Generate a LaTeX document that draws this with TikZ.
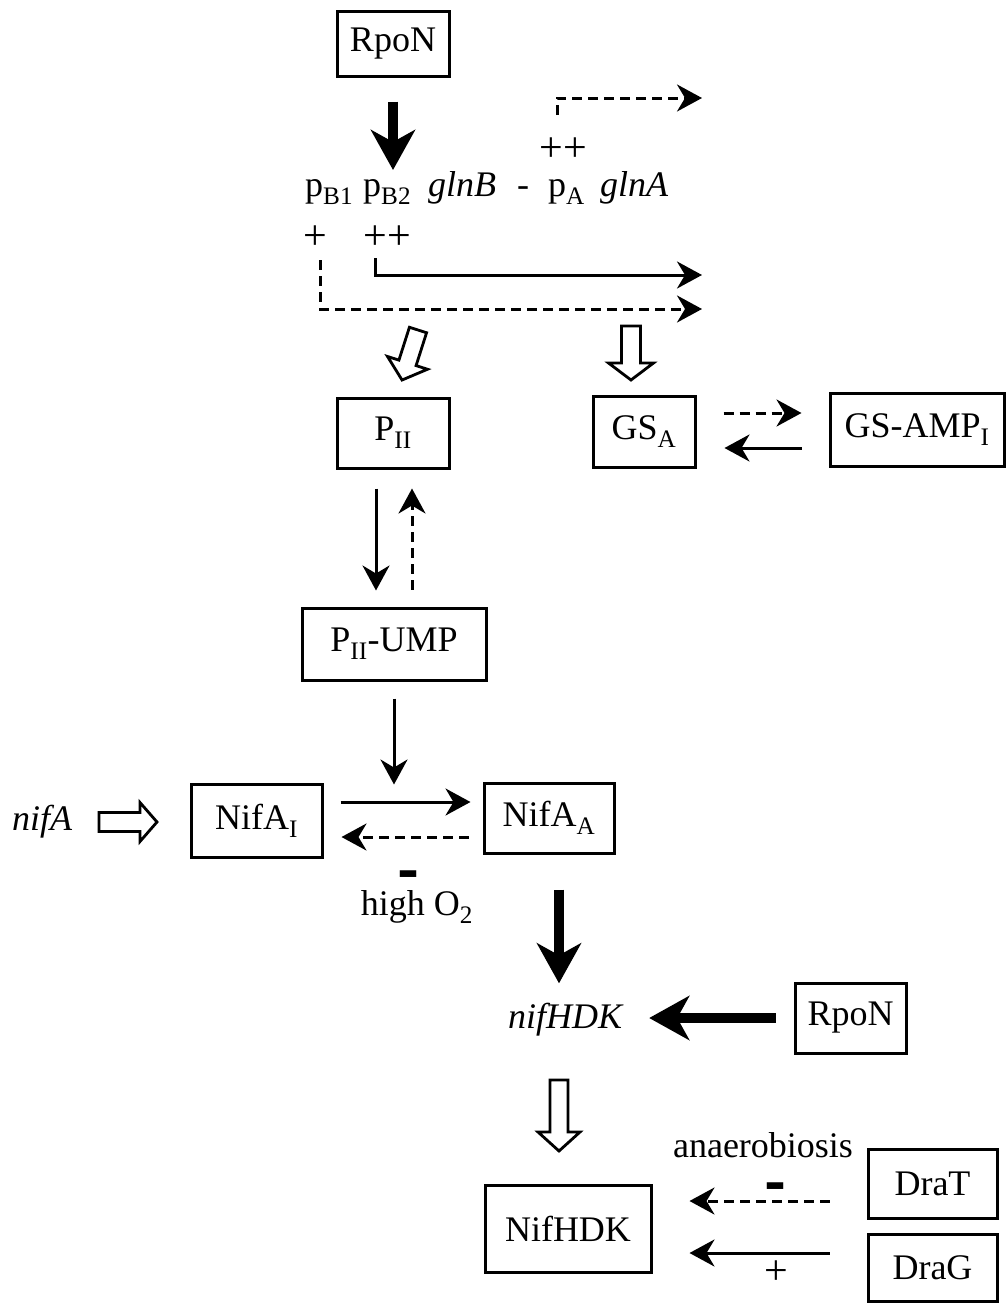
\documentclass[tikz,border=0pt]{standalone}
\usepackage{fontspec}
\usepackage{graphicx}
\setmainfont{Liberation Serif}
\usetikzlibrary{arrows.meta,calc}
\newcommand\hollowarrow[7]{%
  \begin{scope}[shift={(#1,#2)},rotate=#3]
  \draw[hollowsty] (-#5,0) -- (-#5,#4-#7) -- (-#6,#4-#7) -- (0,#4) -- (#6,#4-#7) -- (#5,#4-#7) -- (#5,0) -- cycle;
  \end{scope}}
\begin{document}
\begin{tikzpicture}[x=1pt,y=-1pt,
  every node/.style={font=\fontsize{36}{43}\selectfont, inner sep=0pt},
  box/.style={draw, line width=3pt},
  ln/.style={line width=3pt},
  arr/.style={ln, -{Stealth[length=25pt,width=27pt,inset=8pt]}},
  darr/.style={arr, dash pattern=on 10pt off 6pt},
  bigarr/.style={line width=10pt, -{Stealth[length=40pt,width=44pt,inset=12pt]}},
  hollowsty/.style={line width=2.8pt, line join=miter, fill=white},
  plussty/.style={font=\fontsize{42}{48}\selectfont},
  minussty/.style={font=\fontsize{32}{38}\selectfont\bfseries, anchor=north}]
\useasboundingbox (0,0) rectangle (1006,1304);

% boxes
\node[box, minimum width=112pt, minimum height=65pt] (rpon1) at (393,43.5) {RpoN};
\node[box, minimum width=112pt, minimum height=70pt] (pii) at (393,433) {P\textsubscript{II}};
\node[box, minimum width=102pt, minimum height=71pt] (gsa) at (644,431.5) {GS\textsubscript{A}};
\node[box, minimum width=174pt, minimum height=73pt] (gsamp) at (917,429.5) {GS-AMP\textsubscript{I}};
\node[box, minimum width=184pt, minimum height=72pt] (piiump) at (394,644) {P\textsubscript{II}-UMP};
\node[box, minimum width=131pt, minimum height=73pt] (nifai) at (256.5,820.5) {NifA\textsubscript{I}};
\node[box, minimum width=130pt, minimum height=70pt] (nifaa) at (549,818) {NifA\textsubscript{A}};
\node[box, minimum width=111pt, minimum height=70pt] (rpon2) at (850.5,1018) {RpoN};
\node[box, minimum width=166pt, minimum height=87pt] (nifhdk) at (568,1228.5) {NifHDK};
\node[box, minimum width=129pt, minimum height=69pt] (drat) at (932.5,1183.5) {DraT};
\node[box, minimum width=129pt, minimum height=67pt] (drag) at (932.5,1267.5) {DraG};

% gene row
\node[anchor=base west] (pB1) at (305,196) {p\textsubscript{B1}};
\node[anchor=base west] (pB2) at (363,196) {p\textsubscript{B2}};
\node[anchor=base west] (glnB) at (428,196) {\itshape glnB};
\node[anchor=base] (gdash) at (523,196) {-};
\node[anchor=base west] (pA) at (548,196) {p\textsubscript{A}};
\node[anchor=base west] (glnA) at (600,196) {\itshape glnA};
\node[plussty] (plusA) at (563,150) {++};
\node[plussty] (plusB1) at (315,238) {+};
\node[plussty] (plusB2) at (387,238) {++};

% other texts
\node (nifA) at (42,822) {\itshape nifA};
\node (nifHDKgene) at (565,1020) {\itshape nifHDK};
\node (highO) at (417,907) {high O\textsubscript{2}};
\node[minussty] (m1) at (408,871) {\scalebox{1}[3]{–}};
\node (anaer) at (763,1145) {anaerobiosis};
\node[minussty] (m2) at (775,1183) {\scalebox{1}[3]{–}};
\node[plussty] (plusD) at (776,1273) {+};

% coordinates for free ends
\coordinate (aEnd) at (702,98);
\coordinate (b2End) at (702,275);
\coordinate (b1End) at (702,309);

% thick arrows
\draw[bigarr] ($(rpon1.south)+(0,24)$) -- ($(pB2.base west)+(30,-26)$);
\draw[bigarr] ($(nifaa.south)+(10,35)$) -- ($(nifHDKgene.north)+(-6,-20)$);
\draw[bigarr] ($(rpon2.west)+(-18,0)$) -- ($(nifHDKgene.east)+(27,-2)$);

% promoter arrows
\draw[darr] ($(pA.base west)+(9,-81)$) |- (aEnd);
\draw[arr] (375,258) |- (b2End);
\draw[darr] (320,260) |- (b1End);

% hollow arrows
\hollowarrow{418}{330}{-17.7}{52.5}{9}{21}{18}
\hollowarrow{631}{326}{0}{54}{9.5}{22.5}{17}
\hollowarrow{99}{822}{90}{58}{9.5}{19.5}{17}
\hollowarrow{559}{1080}{0}{71}{9}{21}{19}

% GS arrows
\draw[darr] ($(gsa.east)+(27,-18.5)$) -- ($(gsamp.west)+(-27,-16.5)$);
\draw[arr] ($(gsamp.west)+(-27,18.5)$) -- ($(gsa.east)+(28,16.5)$);

% PII arrows
\draw[arr] ($(pii.south)+(-17,19)$) -- ($(piiump.north)+(-18,-16)$);
\draw[darr] ($(piiump.north)+(18,-17)$) -- ($(pii.south)+(19,19)$);
\draw[arr] ($(piiump.south)+(0,17)$) -- ($(piiump.south)+(0,103)$);

% NifA arrows
\draw[arr] ($(nifai.east)+(17,-18.5)$) -- ($(nifaa.west)+(-12,-16)$);
\draw[darr] ($(nifaa.west)+(-14,19)$) -- ($(nifai.east)+(18,16.5)$);

% Dra arrows
\draw[darr] ($(drat.west)+(-37,17.5)$) -- ($(nifhdk.east)+(37,-27.5)$);
\draw[arr] ($(drag.west)+(-37,-14.5)$) -- ($(nifhdk.east)+(37,24.5)$);
\end{tikzpicture}
\end{document}
